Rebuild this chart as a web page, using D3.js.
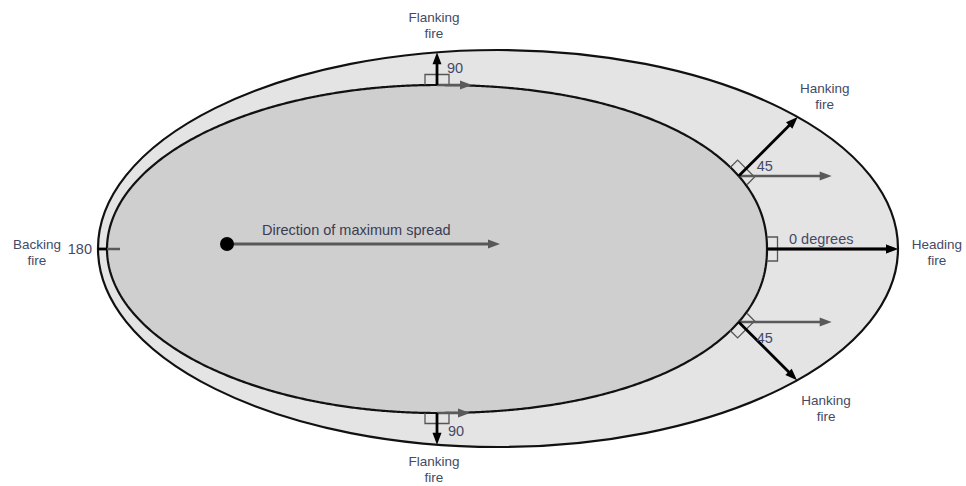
<!DOCTYPE html>
<html><head><meta charset="utf-8">
<script src="https://cdn.jsdelivr.net/npm/d3@7"></script>
<style>
body{margin:0;background:#fff}
text{font-family:"Liberation Sans",Arial,sans-serif}
</style>
</head><body>
<svg id="c" width="966" height="486"></svg>
<script>
// ---------- data (diagram units, origin = ignition point, y up) ----------
const ignition = [0, 0];
const spreadVectorEnd = [273, 0];
const outerPerimeter = {cx: 271, cy: -4.5, rx: 400, ry: 198.5};
const innerPerimeter = {cx: 210, cy: -5, rx: 330, ry: 164, nLeft: 2, nRight: 2.15};
const spreadAngles    = [0, 45, 90, 180, -45, -90];        // direction of normal spread (deg)
const perimeterAngles = [0, 13.6, 90, 180, -13.6, -90];    // polar angle on previous perimeter
const windVectorLength = [131, 93, 35, 13, 93, 33];
const rightAngleMark  = [true, true, true, false, true, true];
const angleLabels = ["0 degrees", "45", "90", "180", "45", "90"];
const fireTypes   = ["Heading", "Hanking", "Flanking", "Backing", "Hanking", "Flanking"];
const directionLabel = "Direction of maximum spread";

// ---------- scales ----------
const x = d3.scaleLinear().domain([-227, 739]).range([0, 966]);
const y = d3.scaleLinear().domain([244, -242]).range([0, 486]);
const svg = d3.select("#c");

const txtColor = "#444a66";
const grey = "#5a5a5a";

// inner perimeter (slightly egg-shaped superellipse)
function innerR(phi) {
  const c = Math.cos(phi), s = Math.sin(phi);
  const n = c >= 0 ? innerPerimeter.nRight : innerPerimeter.nLeft;
  return 1 / Math.pow(Math.pow(Math.abs(c) / innerPerimeter.rx, n) + Math.pow(Math.abs(s) / innerPerimeter.ry, n), 1 / n);
}
function innerPoint(deg) {
  const phi = deg * Math.PI / 180, r = innerR(phi);
  return [innerPerimeter.cx + r * Math.cos(phi), innerPerimeter.cy + r * Math.sin(phi)];
}

// outer perimeter
svg.append("ellipse")
  .attr("cx", x(outerPerimeter.cx)).attr("cy", y(outerPerimeter.cy))
  .attr("rx", x(outerPerimeter.cx + outerPerimeter.rx) - x(outerPerimeter.cx))
  .attr("ry", y(outerPerimeter.cy - outerPerimeter.ry) - y(outerPerimeter.cy))
  .attr("fill", "#e4e4e4").attr("stroke", "#111").attr("stroke-width", 2.2);

const innerPts = d3.range(0, 720).map(i => innerPoint(i / 2));
svg.append("path")
  .attr("d", d3.line().x(d => x(d[0])).y(d => y(d[1])).curve(d3.curveLinearClosed)(innerPts))
  .attr("fill", "#cfcfcf").attr("stroke", "#111").attr("stroke-width", 2.2);

function arrow(x1, y1, x2, y2, color, w, head) {
  const dx = x2 - x1, dy = y2 - y1, L = Math.hypot(dx, dy);
  const ux = dx / L, uy = dy / L;
  const hl = head ? 12 : 0, hw = 4.5;
  svg.append("line").attr("x1", x1).attr("y1", y1)
    .attr("x2", x2 - ux * hl * 0.8).attr("y2", y2 - uy * hl * 0.8)
    .attr("stroke", color).attr("stroke-width", w);
  if (head) {
    const bx = x2 - ux * hl, by = y2 - uy * hl;
    svg.append("path")
      .attr("d", `M${x2},${y2}L${bx - uy * hw},${by + ux * hw}L${bx + uy * hw},${by - ux * hw}Z`)
      .attr("fill", color);
  }
}

// outer intersection of a ray
function rayToOuter(p, deg) {
  const a = deg * Math.PI / 180, c = Math.cos(a), s = Math.sin(a);
  const {cx, cy, rx, ry} = outerPerimeter;
  const px = p[0] - cx, py = p[1] - cy;
  const A = (c / rx) ** 2 + (s / ry) ** 2;
  const B = 2 * (px * c / rx ** 2 + py * s / ry ** 2);
  const C = (px / rx) ** 2 + (py / ry) ** 2 - 1;
  const t = (-B + Math.sqrt(B * B - 4 * A * C)) / (2 * A);
  return [p[0] + t * c, p[1] + t * s];
}

// direction of maximum spread
arrow(x(ignition[0]), y(ignition[1]), x(spreadVectorEnd[0]), y(spreadVectorEnd[1]), "#585858", 3, true);
svg.append("circle").attr("cx", x(ignition[0])).attr("cy", y(ignition[1])).attr("r", 7).attr("fill", "#000");
svg.append("text").attr("x", x(ignition[0]) + 35).attr("y", y(ignition[1]) - 9)
  .attr("font-size", 14.5).attr("fill", "#3a3d52").text(directionLabel);

// label layout (pixel offsets relative to arrow ends / start points)
const fireLabelPos = [
  {dx: 39, dy: 0, gap: 15.5, anchor: "middle"},
  {dx: 27, dy: -24, gap: 15.5, anchor: "middle"},
  {dx: -3, dy: -30, gap: 16, anchor: "middle"},
  {dx: -61, dy: 0, gap: 16, anchor: "middle"},
  {dx: 29, dy: 25, gap: 15.5, anchor: "middle"},
  {dx: -3, dy: 21.5, gap: 15.5, anchor: "middle"}
];
const angleLabelPos = [
  {dx: 22, dy: -5, anchor: "start"},
  {dx: 18, dy: -5, anchor: "start"},
  {dx: 10, dy: -12, anchor: "start"},
  {dx: -15, dy: 5, anchor: "end"},
  {dx: 18, dy: 21, anchor: "start"},
  {dx: 11, dy: 23, anchor: "start"}
];

spreadAngles.forEach((deg, i) => {
  const p = innerPoint(perimeterAngles[i]);
  const e = rayToOuter(p, deg);
  const P = [x(p[0]), y(p[1])], E = [x(e[0]), y(e[1])];
  const a = deg * Math.PI / 180;
  const n = [Math.cos(a), -Math.sin(a)], t = [-n[1], n[0]];
  // right-angle marks
  if (rightAngleMark[i]) {
    const sN = 10.5, sT = 12;
    const pts = [
      [P[0] + t[0] * sT, P[1] + t[1] * sT],
      [P[0] + t[0] * sT + n[0] * sN, P[1] + t[1] * sT + n[1] * sN],
      [P[0] + n[0] * sN, P[1] + n[1] * sN],
      [P[0] - t[0] * sT + n[0] * sN, P[1] - t[1] * sT + n[1] * sN],
      [P[0] - t[0] * sT, P[1] - t[1] * sT]
    ];
    svg.append("path").attr("d", d3.line()(pts))
      .attr("fill", "none").attr("stroke", "#555").attr("stroke-width", 1.3);
  }
  // wind (max-spread) component
  const wEnd = x(p[0] + windVectorLength[i]);
  const long = windVectorLength[i] > 20;
  arrow(P[0], P[1], wEnd, P[1], grey, 2.5, long);
  // normal spread vector
  arrow(P[0], P[1], E[0], E[1], "#000", 2.8, long);
  // labels
  const fl = fireLabelPos[i];
  const g = svg.append("g").attr("fill", txtColor).attr("font-size", 13.5).attr("text-anchor", fl.anchor);
  g.append("text").attr("x", E[0] + fl.dx).attr("y", E[1] + fl.dy).text(fireTypes[i]);
  g.append("text").attr("x", E[0] + fl.dx).attr("y", E[1] + fl.dy + fl.gap).text("fire");
  const al = angleLabelPos[i];
  svg.append("text").attr("x", P[0] + al.dx).attr("y", P[1] + al.dy)
    .attr("text-anchor", al.anchor).attr("font-size", 14.5).attr("fill", txtColor).text(angleLabels[i]);
});
</script>
</body></html>
